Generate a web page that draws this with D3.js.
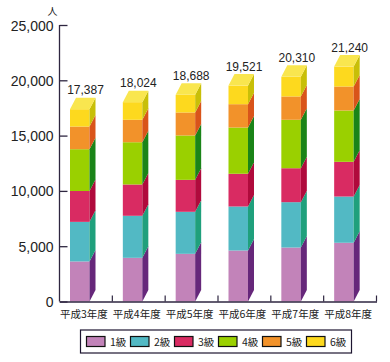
<!DOCTYPE html>
<html>
<head>
<meta charset="utf-8">
<script src="https://cdn.jsdelivr.net/npm/d3@7"></script>
<style>
  body { margin: 0; background: #fff; }
  svg { display: block; }
  text { fill: #222; }
  .num { font-family: "Liberation Sans", Arial, sans-serif; }
  .jp { font-family: "Noto Sans CJK JP", sans-serif; font-weight: 400; }
</style>
</head>
<body>
<svg id="chart" width="390" height="362"></svg>
<script>
const years = ['平成3年度', '平成4年度', '平成5年度', '平成6年度', '平成7年度', '平成8年度'];
const grades = ['1級', '2級', '3級', '4級', '5級', '6級'];
const grade1 = [3620, 3950, 4310, 4610, 4880, 5310];
const grade2 = [3580, 3800, 3800, 3980, 4100, 4180];
const grade3 = [2790, 2830, 2890, 2960, 3070, 3140];
const grade4 = [3780, 3820, 4010, 4180, 4380, 4640];
const grade5 = [2050, 2030, 2080, 2110, 2110, 2170];
const grade6 = [1567, 1594, 1598, 1681, 1770, 1800];
const totals = [17387, 18024, 18688, 19521, 20310, 21240];
const yTicks = [0, 5000, 10000, 15000, 20000, 25000];

const frontColors = ['#c283b9', '#52b9c4', '#d92b62', '#9ad000', '#f2922a', '#fdd91e'];
const sideColors = ['#66277a', '#1fa07c', '#b00a3c', '#1a8418', '#d9541a', '#c8bf08'];
const topColor = '#f9e64f';

const svg = d3.select('svg#chart');

const x = d3.scaleBand().domain(years).range([59.5, 376.5]);
const y = d3.scaleLinear().domain([0, 25000]).range([301.5, 25]);

const BAR_OFFSET = 10.5;
const BAR_WIDTH = 19.5;
const DEPTH_X = 6;
const DEPTH_Y = 11.5;

const rows = years.map((year, i) => ({
  year,
  '1級': grade1[i], '2級': grade2[i], '3級': grade3[i],
  '4級': grade4[i], '5級': grade5[i], '6級': grade6[i]
}));
const series = d3.stack().keys(grades)(rows);

const bars = svg.append('g');
series.forEach((s, gi) => {
  s.forEach(d => {
    const x0 = x(d.data.year) + BAR_OFFSET;
    const x1 = x0 + BAR_WIDTH;
    const yTop = y(d[1]);
    const yBot = y(d[0]);
    bars.append('rect')
        .attr('x', x0).attr('y', yTop)
        .attr('width', BAR_WIDTH).attr('height', yBot - yTop)
        .attr('fill', frontColors[gi]);
    bars.append('polygon')
        .attr('points', [[x1, yTop], [x1 + DEPTH_X, yTop - DEPTH_Y], [x1 + DEPTH_X, yBot - DEPTH_Y], [x1, yBot]].join(' '))
        .attr('fill', sideColors[gi]);
    if (gi === grades.length - 1) {
      bars.append('polygon')
          .attr('points', [[x0, yTop], [x0 + DEPTH_X, yTop - DEPTH_Y], [x1 + DEPTH_X, yTop - DEPTH_Y], [x1, yTop]].join(' '))
          .attr('fill', topColor);
    }
  });
});

// axes
const yAxis = svg.append('g')
    .attr('transform', `translate(${x.range()[0]},0)`)
    .call(d3.axisLeft(y).tickValues(yTicks).tickSize(-8).tickFormat(d3.format(',')));
yAxis.attr('font-family', null);
yAxis.selectAll('text').attr('class', 'num').attr('font-size', 14).attr('x', -6).attr('dy', '0.36em');
yAxis.selectAll('path, line').attr('stroke', '#2e2640').attr('stroke-width', 1.3);
yAxis.select('.domain').attr('d', `M0,${y(25000)}V${y(0)}`);

const xAxis = svg.append('g')
    .attr('transform', `translate(0,${y(0)})`)
    .call(d3.axisBottom(x).tickSize(0).tickPadding(9));
xAxis.attr('font-family', null);
xAxis.selectAll('text').attr('class', 'jp').attr('font-size', 10.5).attr('dx', -2);
xAxis.select('.domain').attr('stroke', '#2e2640').attr('stroke-width', 1.3);

svg.append('g').selectAll('line')
    .data(years.map(year => x(year) + x.bandwidth()))
    .join('line')
    .attr('x1', d => d).attr('x2', d => d)
    .attr('y1', y(0)).attr('y2', y(0) - 6)
    .attr('stroke', '#2e2640').attr('stroke-width', 1.2);

// totals on top of each bar
svg.append('g').selectAll('text')
    .data(totals)
    .join('text')
    .attr('class', 'num')
    .attr('font-size', 12)
    .attr('text-anchor', 'middle')
    .attr('x', (d, i) => x(years[i]) + BAR_OFFSET + 15.5)
    .attr('y', d => y(d) - DEPTH_Y - 3.5)
    .text(d3.format(','));

svg.append('text')
    .attr('class', 'jp')
    .attr('font-size', 10)
    .attr('text-anchor', 'middle')
    .attr('x', 52.5).attr('y', 15)
    .text('人');

// legend
const LEGEND_X = 80.5, LEGEND_Y = 330, LEGEND_W = 271, LEGEND_H = 23;
const legend = svg.append('g');
legend.append('rect')
    .attr('x', LEGEND_X).attr('y', LEGEND_Y)
    .attr('width', LEGEND_W).attr('height', LEGEND_H)
    .attr('fill', '#fff').attr('stroke', '#1d1530').attr('stroke-width', 1.2);
const legendX = d3.scaleBand().domain(grades).range([86.5, 86.5 + 44 * 6]);
legend.selectAll('rect.swatch')
    .data(grades)
    .join('rect')
    .attr('class', 'swatch')
    .attr('x', d => legendX(d)).attr('y', 336.5)
    .attr('width', 18.5).attr('height', 10)
    .attr('fill', (d, i) => frontColors[i])
    .attr('stroke', '#111').attr('stroke-width', 1.2);
legend.selectAll('text.label')
    .data(grades)
    .join('text')
    .attr('class', 'label jp')
    .attr('font-size', 10.5)
    .attr('x', d => legendX(d) + 23.5).attr('y', 345.5)
    .text(d => d);
</script>
</body>
</html>
